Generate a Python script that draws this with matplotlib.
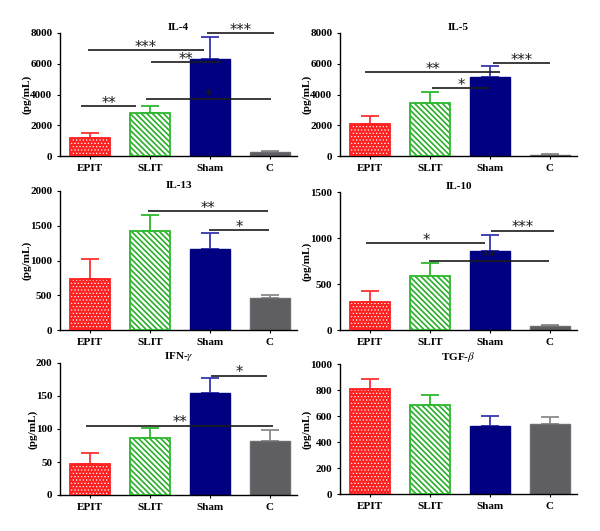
import numpy as np
import matplotlib.pyplot as plt

groups = ['EPIT', 'SLIT', 'Sham', 'C']

il4_mean = [1170, 2800, 6300, 260]
il4_err = [330, 450, 1450, 60]
il5_mean = [2080, 3450, 5140, 80]
il5_err = [520, 700, 710, 40]
il13_mean = [729, 1424, 1165, 456]
il13_err = [293, 231, 226, 48]
il10_mean = [300, 586, 864, 47]
il10_err = [123, 144, 173, 8]
ifng_mean = [46.6, 86, 154, 81.5]
ifng_err = [16.4, 14.8, 22.7, 17.5]
tgfb_mean = [806, 685, 524, 542]
tgfb_err = [79, 75, 74, 51]

# significance bars: (x start, x end, y value, label)
il4_sig = [(-0.15, 0.77, 3250, '**'), (-0.03, 1.9, 6900, '***'),
           (1.02, 2.18, 6100, '**'), (0.93, 3.02, 3700, '*'),
           (1.95, 3.07, 8000, '***')]
il5_sig = [(-0.08, 2.17, 5460, '**'), (1.03, 2.0, 4420, '*'),
           (2.05, 3.0, 6050, '***')]
il13_sig = [(0.96, 2.96, 1712, '**'), (1.99, 2.99, 1439, '*')]
il10_sig = [(-0.06, 1.92, 943, '*'), (0.99, 2.99, 755, '**'),
            (2.02, 3.06, 1081, '***')]
ifng_sig = [(2.01, 2.95, 180.8, '*'), (-0.06, 3.05, 105.3, '**')]
tgfb_sig = []

panels = [
    ('IL-4', il4_mean, il4_err, il4_sig, 8000, 2000, [60, 33, 156]),
    ('IL-5', il5_mean, il5_err, il5_sig, 8000, 2000, [340, 33, 156]),
    ('IL-13', il13_mean, il13_err, il13_sig, 2000, 500, [60, 191, 330]),
    ('IL-10', il10_mean, il10_err, il10_sig, 1500, 500, [340, 192, 330]),
    ('IFN-$\\gamma$', ifng_mean, ifng_err, ifng_sig, 200, 50, [60, 363, 495]),
    ('TGF-$\\beta$', tgfb_mean, tgfb_err, tgfb_sig, 1000, 200, [340, 364, 494]),
]

fill_colors = ['#ff2020', 'white', '#000080', '#5f5f63']
edge_colors = ['#ff2020', '#2db82d', '#000080', '#6e6e72']
err_colors = ['#ff3030', '#2db82d', '#3535b0', '#8a8a8a']
hatches = ['.....', '\\' * 6, None, None]
hatch_colors = ['white', '#2aae2a', None, None]
hatch_widths = [0.5, 1.2, 1.0, 1.0]

plt.rcParams['mathtext.fontset'] = 'stix'
serif = 'Liberation Serif'

W, H = 600, 531
fig = plt.figure(figsize=(6, 5.31), dpi=100)

x = np.arange(len(groups))
for title, mean, err, sig, ymax, ystep, (left, top, bottom) in panels:
    ax = fig.add_axes([left / W, 1 - bottom / H, 237 / W, (bottom - top) / H])
    for i in range(len(groups)):
        if hatches[i]:
            with plt.rc_context({'hatch.linewidth': hatch_widths[i]}):
                ax.bar(x[i], mean[i], width=0.68, color=fill_colors[i],
                       edgecolor=hatch_colors[i], hatch=hatches[i],
                       linewidth=0, zorder=2)
            ax.bar(x[i], mean[i], width=0.68, fill=False,
                   edgecolor=edge_colors[i], linewidth=1.3, zorder=3)
        else:
            ax.bar(x[i], mean[i], width=0.68, color=fill_colors[i],
                   edgecolor=edge_colors[i], linewidth=1.0, zorder=2)
        ax.errorbar(x[i], mean[i], yerr=[[0], [err[i]]], fmt='none',
                    ecolor=err_colors[i], elinewidth=1.3, capsize=6.5,
                    capthick=1.3, zorder=1)
    for x1, x2, yv, lab in sig:
        ax.plot([x1, x2], [yv, yv], color='#1a1a1a', lw=1.2,
                solid_capstyle='butt', clip_on=False, zorder=4)
        ax.annotate(lab, ((x1 + x2) / 2, yv), xytext=(0, -1.2),
                    textcoords='offset points', ha='center', va='baseline',
                    fontsize=10.5, color='#1a1a1a', annotation_clip=False)
    ax.set_xlim(-0.5, 3.45)
    ax.set_ylim(0, ymax)
    ax.set_yticks(np.arange(0, ymax + 1, ystep))
    ax.set_xticks(x)
    ax.set_xticklabels(groups)
    for lab in ax.get_xticklabels() + ax.get_yticklabels():
        lab.set_fontfamily(serif)
        lab.set_fontweight('bold')
        lab.set_fontsize(8)
    ax.tick_params(axis='x', length=2.5, width=0.8, pad=3)
    ax.tick_params(axis='y', length=2.5, width=0.8, pad=3)
    ax.spines['top'].set_visible(False)
    ax.spines['right'].set_visible(False)
    ax.spines['left'].set_linewidth(1.0)
    ax.spines['bottom'].set_linewidth(1.0)
    ax.set_ylabel('(pg/mL)', fontfamily=serif, fontweight='bold', fontsize=8,
                  labelpad=-1)
    ax.set_title(title, fontfamily=serif, fontweight='bold', fontsize=8, pad=2)

fig.savefig('out.png', dpi=100)
